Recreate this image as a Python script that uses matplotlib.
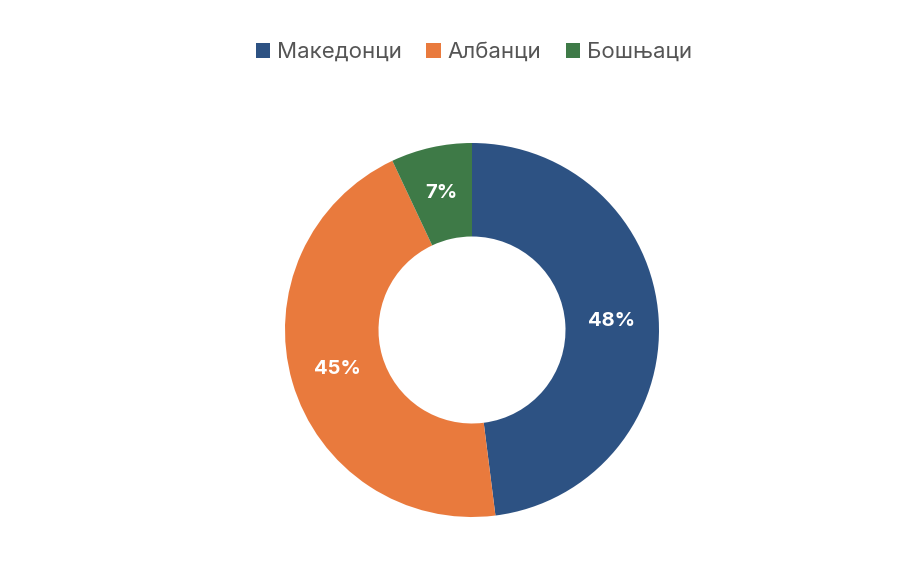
import matplotlib
matplotlib.use("Agg")
from matplotlib import pyplot as plt
from matplotlib.patches import Patch

plt.rcParams['font.family'] = ['Inter', 'DejaVu Sans']

# податоци
labels = ['Македонци', 'Албанци', 'Бошњаци']
values = [48, 45, 7]
colors = ['#2d5283', '#e97a3d', '#3e7a47']

fig = plt.figure(figsize=(9.17, 5.64), dpi=100)
fig.patch.set_facecolor('white')

# оската е поставена така што центарот на прстенот е околу (472, 330) px
cx, cy, r = 472, 330, 187
ax = fig.add_axes([(cx - r) / 917, (564 - cy - r) / 564, 2 * r / 917, 2 * r / 564])

wedges, texts, autotexts = ax.pie(
    values, colors=colors, startangle=90, counterclock=False,
    radius=1.0, wedgeprops=dict(width=0.5, linewidth=0),
    autopct=lambda p: f'{p:.0f}%', pctdistance=0.75,
    textprops=dict(color='white', fontsize=14.5, fontweight='bold'))
ax.set_xlim(-1, 1)
ax.set_ylim(-1, 1)
ax.set_aspect('equal')
ax.axis('off')

handles = [Patch(facecolor=c, edgecolor='none') for c in colors]
fig.legend(handles, labels, loc='center', bbox_to_anchor=(474 / 917, 1 - 52 / 564),
           ncol=3, frameon=False, fontsize=16, handlelength=0.65, handleheight=0.65,
           handletextpad=0.3, columnspacing=1.1, labelcolor='#555555')

fig.savefig('out.png', dpi=100)
